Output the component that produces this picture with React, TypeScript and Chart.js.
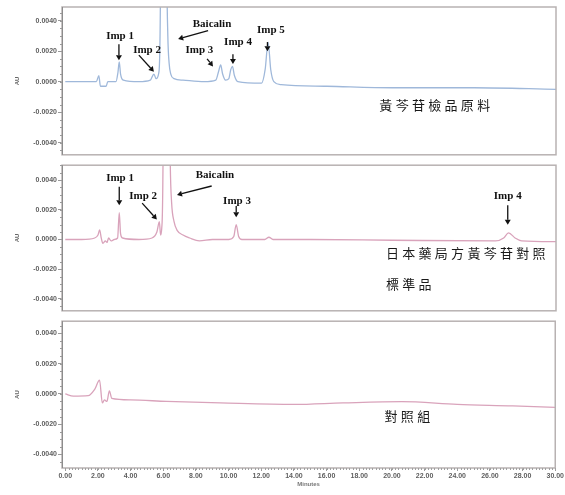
import React, { useEffect, useRef } from 'react';
import { Chart, registerables } from 'chart.js';
Chart.register(...registerables);

// ---- axis ticks ----
const xTickValues = [0, 2, 4, 6, 8, 10, 12, 14, 16, 18, 20, 22, 24, 26, 28, 30];
const yTickValues = [-0.004, -0.002, 0, 0.002, 0.004];

// ---- panel 1: 黃芩苷檢品原料 (blue trace) ----
const p1Times = [0, 1.0, 1.9, 2.05, 2.15, 2.5, 2.6, 3.1, 3.22, 3.3, 3.38, 3.55, 4.5, 5.2, 5.42, 5.55, 5.72, 5.82, 5.9, 6.0, 6.1, 6.2, 6.27, 6.35, 6.45, 6.65, 7.2, 8.5, 9.2, 9.38, 9.5, 9.62, 9.8, 10.0, 10.12, 10.22, 10.34, 10.55, 12.0, 12.22, 12.4, 12.56, 12.75, 13.2, 16, 20, 25, 30];
const p1Values = [0, 0, 0, 0.0004, -0.0003, -0.0003, 0, 0, 0.0006, 0.0013, 0.0005, 0.0001, 0, 0.0001, 0.0005, 0.0002, 0.0006, 0.006, 0.03, 0.05, 0.03, 0.008, 0.003, 0.0012, 0.0005, 0.0002, 0.0001, 0, 0.0001, 0.0007, 0.0011, 0.0005, 0.0001, 0.0002, 0.0008, 0.001, 0.0004, 0, -0.0001, 0.0008, 0.0026, 0.0008, 0, -0.0002, -0.0003, -0.0004, -0.0004, -0.0005];

// ---- panel 2: 日本藥局方黃芩苷對照標準品 (pink trace) ----
const p2Times = [0, 1.0, 1.8, 2.0, 2.1, 2.2, 2.3, 2.45, 2.55, 2.65, 2.8, 3.0, 3.2, 3.3, 3.38, 3.5, 4.5, 5.3, 5.6, 5.75, 5.83, 5.9, 6.0, 6.05, 6.15, 6.28, 6.35, 6.42, 6.5, 6.65, 6.85, 7.2, 7.6, 8.2, 9.0, 10.0, 10.3, 10.45, 10.6, 10.8, 12.2, 12.45, 12.7, 15, 20, 26.3, 26.8, 27.1, 27.5, 27.9, 30];
const p2Values = [0, 0, 0.0001, 0.0003, 0.00065, 0.0001, -0.00026, -0.0001, -0.0002, 0.0001, -0.0001, 0, 0.0001, 0.0018, 0.0004, 0.0001, 0, 0.0001, 0.0005, 0.0012, 0.0003, 0.0008, 0.01, 0.04, 0.06, 0.04, 0.012, 0.005, 0.0025, 0.0012, 0.0006, 0.0003, 0.0001, -0.0001, 0, 0, 0.0002, 0.001, 0.0002, 0, 0, 0.00015, 0, 0, -0.00005, -0.0001, 0.0001, 0.00045, 0.0001, -0.0001, -0.00015];

// ---- panel 3: 對照組 (pink trace) ----
const p3Times = [0, 0.5, 1.4, 1.8, 2.1, 2.27, 2.4, 2.55, 2.7, 2.85, 4, 6.2, 9.5, 14, 17, 20.6, 24, 27.4, 30];
const p3Values = [0, -0.00015, -0.00012, 0.0003, 0.0009, -0.0006, -0.0004, -0.0005, 0.0002, -0.0003, -0.0004, -0.0005, -0.0006, -0.0007, -0.0006, -0.00052, -0.0007, -0.0008, -0.0009];

// ---- annotations (data coordinates) ----
type Label = { text: string; x: number; y: number };
type Arrow = { x1: number; y1: number; x2: number; y2: number };
type Note = { lines: string[]; x: number; y: number; gap: number };

const p1Labels: Label[] = [
  { text: 'Imp 1', x: 3.35, y: 0.0030 },
  { text: 'Imp 2', x: 5.0, y: 0.0021 },
  { text: 'Baicalin', x: 8.97, y: 0.0038 },
  { text: 'Imp 3', x: 8.2, y: 0.0021 },
  { text: 'Imp 4', x: 10.56, y: 0.0026 },
  { text: 'Imp 5', x: 12.57, y: 0.0034 },
];
const p1Arrows: Arrow[] = [
  { x1: 3.28, y1: 0.00245, x2: 3.28, y2: 0.0014 },
  { x1: 4.5, y1: 0.00174, x2: 5.42, y2: 0.00065 },
  { x1: 8.73, y1: 0.00335, x2: 6.9, y2: 0.0028 },
  { x1: 8.67, y1: 0.0015, x2: 9.03, y2: 0.001 },
  { x1: 10.25, y1: 0.0018, x2: 10.25, y2: 0.00116 },
  { x1: 12.36, y1: 0.0026, x2: 12.36, y2: 0.002 },
];
const p2Labels: Label[] = [
  { text: 'Imp 1', x: 3.35, y: 0.0041 },
  { text: 'Imp 2', x: 4.76, y: 0.0029 },
  { text: 'Baicalin', x: 9.15, y: 0.0043 },
  { text: 'Imp 3', x: 10.5, y: 0.0026 },
  { text: 'Imp 4', x: 27.05, y: 0.0029 },
];
const p2Arrows: Arrow[] = [
  { x1: 3.3, y1: 0.00355, x2: 3.3, y2: 0.0023 },
  { x1: 4.7, y1: 0.00245, x2: 5.6, y2: 0.00135 },
  { x1: 8.95, y1: 0.0036, x2: 6.83, y2: 0.003 },
  { x1: 10.45, y1: 0.00226, x2: 10.45, y2: 0.0015 },
  { x1: 27.05, y1: 0.0023, x2: 27.05, y2: 0.001 },
];
const p1Note: Note = { lines: ['黃芩苷檢品原料'], x: 19.2, y: -0.00155, gap: 0 };
const p2Note: Note = { lines: ['日本藥局方黃芩苷對照', '標準品'], x: 19.6, y: -0.0009, gap: 0.0021 };
const p3Note: Note = { lines: ['對照組'], x: 19.55, y: -0.00148, gap: 0 };

const BLUE = '#9fb8da';
const PINK = '#d9a3bb';

function makeOverlay(labels: Label[], arrows: Arrow[], note: Note, minorX: boolean) {
  return {
    id: 'overlay',
    afterDraw(chart: any) {
      const { ctx, chartArea: a, scales } = chart;
      const xs = scales.x, ys = scales.y;
      ctx.save();
      // frame
      ctx.strokeStyle = '#b8b2b2';
      ctx.lineWidth = 1.5;
      ctx.strokeRect(a.left, a.top, a.right - a.left, a.bottom - a.top);
      ctx.strokeStyle = '#8c8c8c';
      ctx.lineWidth = 1;
      ctx.beginPath();
      ctx.moveTo(a.left + 0.5, a.top);
      ctx.lineTo(a.left + 0.5, a.bottom);
      ctx.stroke();
      // minor y ticks
      ctx.strokeStyle = '#9a9a9a';
      ctx.beginPath();
      for (let k = -10; k <= 10; k++) {
        const v = k * 0.0005;
        if (v < ys.min || v > ys.max) continue;
        const py = Math.round(ys.getPixelForValue(v)) + 0.5;
        ctx.moveTo(a.left - 2, py);
        ctx.lineTo(a.left, py);
      }
      ctx.stroke();
      if (minorX) {
        ctx.strokeStyle = '#a0a0a0';
        ctx.beginPath();
        for (let k = 0; k <= 150; k++) {
          const v = k * 0.2;
          const px = Math.round(xs.getPixelForValue(v)) + 0.5;
          ctx.moveTo(px, a.bottom);
          ctx.lineTo(px, a.bottom + 2);
        }
        ctx.stroke();
      }
      // arrows
      ctx.strokeStyle = '#111';
      ctx.fillStyle = '#111';
      ctx.lineWidth = 1.3;
      for (const ar of arrows) {
        const x1 = xs.getPixelForValue(ar.x1), y1 = ys.getPixelForValue(ar.y1);
        const x2 = xs.getPixelForValue(ar.x2), y2 = ys.getPixelForValue(ar.y2);
        const ang = Math.atan2(y2 - y1, x2 - x1);
        const hl = 5, hw = 3;
        const bx = x2 - hl * Math.cos(ang), by = y2 - hl * Math.sin(ang);
        ctx.beginPath();
        ctx.moveTo(x1, y1);
        ctx.lineTo(bx, by);
        ctx.stroke();
        ctx.beginPath();
        ctx.moveTo(x2, y2);
        ctx.lineTo(bx + hw * Math.sin(ang), by - hw * Math.cos(ang));
        ctx.lineTo(bx - hw * Math.sin(ang), by + hw * Math.cos(ang));
        ctx.closePath();
        ctx.fill();
      }
      // labels
      ctx.font = 'bold 11px "Liberation Serif", "DejaVu Serif", serif';
      ctx.textAlign = 'center';
      ctx.textBaseline = 'middle';
      for (const lb of labels) {
        ctx.fillText(lb.text, xs.getPixelForValue(lb.x), ys.getPixelForValue(lb.y));
      }
      // Chinese note
      ctx.font = '13px "Noto Sans CJK TC", sans-serif';
      ctx.fillStyle = '#1a1a1a';
      ctx.textAlign = 'left';
      note.lines.forEach((line, i) => {
        const px0 = xs.getPixelForValue(note.x);
        const py = ys.getPixelForValue(note.y - i * note.gap);
        Array.from(line).forEach((ch, j) => {
          ctx.fillText(ch, px0 + j * 16.3, py);
        });
      });
      ctx.restore();
    },
  };
}

function buildChart(
  canvas: HTMLCanvasElement,
  times: number[],
  values: number[],
  color: string,
  yMin: number,
  yMax: number,
  padTop: number,
  padBottom: number,
  showX: boolean,
  overlay: any
) {
  const tickFont = { size: 7, weight: 'bold' as const, family: 'Arial, "Liberation Sans", sans-serif' };
  return new Chart(canvas, {
    type: 'line',
    data: {
      datasets: [
        {
          data: times.map((t, i) => ({ x: t, y: values[i] })),
          borderColor: color,
          borderWidth: 1.3,
          pointRadius: 0,
          cubicInterpolationMode: 'monotone',
          fill: false,
        },
      ],
    },
    options: {
      animation: false,
      responsive: false,
      devicePixelRatio: 1,
      layout: { padding: { top: padTop, bottom: padBottom, left: 0, right: 9 } },
      plugins: { legend: { display: false }, tooltip: { enabled: false } },
      scales: {
        x: {
          type: 'linear',
          display: showX,
          min: -0.2,
          max: 30,
          afterBuildTicks: (s: any) => {
            s.ticks = xTickValues.map((v) => ({ value: v }));
          },
          afterFit: (s: any) => {
            if (showX) s.height = 27;
          },
          grid: { drawOnChartArea: false, drawTicks: true, tickLength: 3, color: '#999' },
          border: { display: false },
          ticks: {
            font: tickFont,
            color: '#5e5e5e',
            padding: 1,
            maxRotation: 0,
            autoSkip: false,
            callback: (v: any) => Number(v).toFixed(2),
          },
          title: {
            display: true,
            text: 'Minutes',
            font: { size: 6, weight: 'bold', family: 'Arial, "Liberation Sans", sans-serif' },
            color: '#777',
            padding: { top: 0, bottom: 7 },
          },
        },
        y: {
          type: 'linear',
          min: yMin,
          max: yMax,
          afterBuildTicks: (s: any) => {
            s.ticks = yTickValues.map((v) => ({ value: v }));
          },
          afterFit: (s: any) => {
            s.width = 62;
          },
          grid: { drawOnChartArea: false, drawTicks: true, tickLength: 4, color: '#999' },
          border: { display: false },
          ticks: {
            font: tickFont,
            color: '#5e5e5e',
            padding: 1,
            callback: (v: any) => Number(v).toFixed(4),
          },
          title: {
            display: true,
            text: 'AU',
            font: { size: 6, weight: 'bold', family: 'Arial, "Liberation Sans", sans-serif' },
            color: '#666',
            padding: { top: 14, bottom: 0 },
          },
        },
      },
    },
    plugins: [overlay],
  } as any);
}

export default function App() {
  const r1 = useRef<HTMLCanvasElement>(null);
  const r2 = useRef<HTMLCanvasElement>(null);
  const r3 = useRef<HTMLCanvasElement>(null);

  useEffect(() => {
    const c1 = buildChart(r1.current!, p1Times, p1Values, BLUE, -0.0048, 0.0049, 7, 3, false,
      makeOverlay(p1Labels, p1Arrows, p1Note, false));
    const c2 = buildChart(r2.current!, p2Times, p2Values, PINK, -0.0048, 0.005, 1, 3, false,
      makeOverlay(p2Labels, p2Arrows, p2Note, false));
    const c3 = buildChart(r3.current!, p3Times, p3Values, PINK, -0.0049, 0.0048, 2, 0, true,
      makeOverlay([], [], p3Note, true));
    return () => {
      c1.destroy();
      c2.destroy();
      c3.destroy();
    };
  }, []);

  return (
    <div style={{ position: 'absolute', left: 0, top: 0, width: 565, height: 495, background: '#fff' }}>
      <canvas ref={r1} width={565} height={160} style={{ position: 'absolute', left: 0, top: 0 }} />
      <canvas ref={r2} width={565} height={156} style={{ position: 'absolute', left: 0, top: 160 }} />
      <canvas ref={r3} width={565} height={179} style={{ position: 'absolute', left: 0, top: 316 }} />
    </div>
  );
}
